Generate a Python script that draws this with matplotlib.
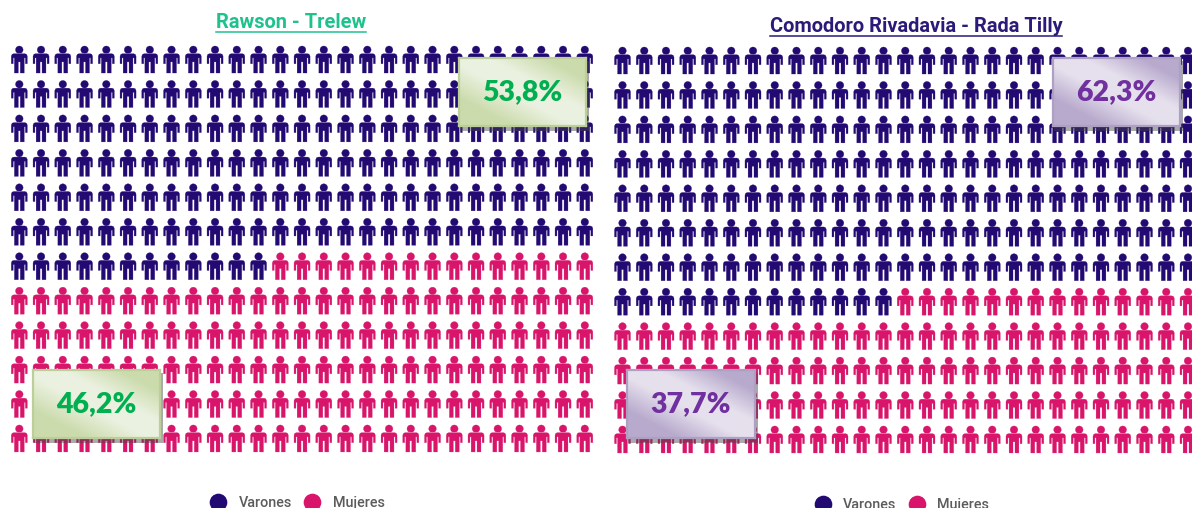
import matplotlib
matplotlib.use("Agg")
import matplotlib.pyplot as plt
import numpy as np
from matplotlib.colors import LinearSegmentedColormap
from matplotlib.lines import Line2D
from matplotlib.patches import Rectangle
from matplotlib.path import Path

W, H = 1192, 508
DPI = 100

titles = ["Rawson - Trelew", "Comodoro Rivadavia - Rada Tilly"]
title_colors = ["#1fc28c", "#2b1a78"]
n_cols = 27
n_rows = 12
varones_count = [174, 202]
labels_top = ["53,8%", "62,3%"]
labels_bottom = ["46,2%", "37,7%"]
legend_labels = ["Varones", "Mujeres"]

NAVY = "#230a73"
PINK = "#d8156b"


def person_marker():
    body = [(-5.5, 5.8), (5.5, 5.8), (7.2, 5.2), (8, 3.4), (8, -4.2), (6.1, -4.2), (6.1, 1.6),
            (4.9, 1.6), (4.9, -13.5), (1.0, -13.5), (1.0, -2.4), (-1.0, -2.4), (-1.0, -13.5),
            (-4.9, -13.5), (-4.9, 1.6), (-6.1, 1.6), (-6.1, -4.2), (-8, -4.2), (-8, 3.4),
            (-7.2, 5.2), (-5.5, 5.8)]
    head = Path.circle((0, 9.7), 3.8)
    return Path.make_compound_path(Path(body, closed=True), head)


def px_axes(fig, left, top, width, height, **kw):
    return fig.add_axes([left / W, 1 - (top + height) / H, width / W, height / H], **kw)


def grid_panel(fig, first_x, first_y, count):
    dx, dy = 21.75, 34.45
    ax = px_axes(fig, first_x - dx / 2, first_y - dy / 2, dx * n_cols, dy * n_rows)
    rows, cols = np.divmod(np.arange(n_cols * n_rows), n_cols)
    colors = [NAVY if i < count else PINK for i in range(n_cols * n_rows)]
    ax.scatter(cols, rows, s=(27 * 72 / DPI) ** 2, marker=person_marker(), c=colors,
               edgecolors="face", linewidths=0.2)
    ax.set_xlim(-0.5, n_cols - 0.5)
    ax.set_ylim(n_rows - 0.5, -0.5)
    ax.axis("off")
    return ax


def gradient_box(fig, left, top, width, height, light, dark, edge, text, text_color):
    fig.add_artist(Rectangle(((left + 2) / W, 1 - (top + height + 4) / H), width / W, height / H,
                             transform=fig.transFigure, color="#444444", alpha=0.45, lw=0, zorder=5))
    ax = px_axes(fig, left + 1, top + 1, width - 2, height - 2)
    ax.set_zorder(6)
    xx, yy = np.meshgrid(np.linspace(0, 1, 130), np.linspace(1, 0, 70))
    t = (xx + yy) / 2
    cmap = LinearSegmentedColormap.from_list(
        "box", [(0, dark), (0.2, dark), (0.45, light), (0.62, light), (0.85, dark), (1, dark)])
    ax.imshow(t, cmap=cmap, vmin=0, vmax=1, extent=(0, 1, 0, 1), aspect="auto")
    ax.set_xticks([])
    ax.set_yticks([])
    for s in ax.spines.values():
        s.set_color(edge)
        s.set_linewidth(1.6)
    ax.text(0.5, 0.5, text, transform=ax.transAxes, ha="center", va="center", color=text_color,
            fontsize=20.5, fontweight="heavy", family="Lato")


def underlined_title(fig, text, x, y, color):
    t = fig.text(x / W, 1 - y / H, text, ha="center", va="center", fontsize=14.4,
                 fontweight="bold", family="Roboto", color=color)
    bb = t.get_window_extent(fig.canvas.get_renderer())
    fig.add_artist(Line2D([bb.x0 / W, bb.x1 / W], [1 - (y + 10) / H] * 2, color=color, lw=1.1,
                          transform=fig.transFigure))


def legend(fig, x, y):
    handles = [Line2D([], [], ls="", marker="o", ms=12.7, color=c, mew=0) for c in (NAVY, PINK)]
    fig.legend(handles, legend_labels, ncol=2, loc="center", frameon=False,
               bbox_to_anchor=(x / W, 1 - y / H), bbox_transform=fig.transFigure,
               prop={"family": "Roboto", "size": 10.4, "weight": "medium"}, labelcolor="#5c5c5c",
               handletextpad=0.62, columnspacing=0.59, handlelength=1.6)


fig = plt.figure(figsize=(W / DPI, H / DPI), dpi=DPI, facecolor="white")

grid_panel(fig, 19.3, 59.5, varones_count[0])
grid_panel(fig, 622.5, 60.5, varones_count[1])

GREEN = ("#ebf1e0", "#cbdbac", "#bccf9a", "#00b050")
PURPLE = ("#e6e0ed", "#b8aacd", "#aea0c2", "#7030a0")
gradient_box(fig, 458, 57, 129, 70, *GREEN[:3], labels_top[0], GREEN[3])
gradient_box(fig, 32, 369, 129, 70, *GREEN[:3], labels_bottom[0], GREEN[3])
gradient_box(fig, 1052, 57, 129, 70, *PURPLE[:3], labels_top[1], PURPLE[3])
gradient_box(fig, 626, 369, 130, 70, *PURPLE[:3], labels_bottom[1], PURPLE[3])

underlined_title(fig, titles[0], 291, 22, title_colors[0])
underlined_title(fig, titles[1], 916, 26, title_colors[1])

legend(fig, 295.5, 503)
legend(fig, 900, 505)

fig.savefig("out.png", dpi=DPI)
